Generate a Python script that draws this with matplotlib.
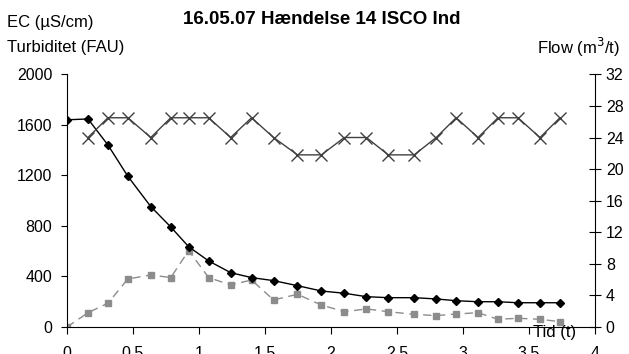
import numpy as np
import matplotlib
matplotlib.use("Agg")
import matplotlib.pyplot as plt
from matplotlib import ticker

plt.rcParams['font.family'] = ['Liberation Sans', 'DejaVu Sans']

# tid i timer
tid = [0, 0.159, 0.31, 0.461, 0.635, 0.786, 0.922, 1.073, 1.24, 1.398, 1.565, 1.746,
       1.927, 2.101, 2.268, 2.434, 2.63, 2.797, 2.948, 3.114, 3.265, 3.416, 3.583, 3.734]
ec = [1640, 1647, 1441, 1193, 953, 792, 635, 523, 430, 391, 367, 327,
      285, 267, 240, 232, 232, 222, 208, 200, 200, 192, 192, 192]
turb = [0, 113, 188, 380, 412, 391, 605, 391, 333, 372, 214, 259,
        174, 121, 143, 121, 100, 90, 103, 113, 61, 69, 61, 42]
# flow starter ved andet maalepunkt
tid_flow = tid[1:]
flow = [24, 26.5, 26.5, 24, 26.5, 26.5, 26.5, 24, 26.5, 24, 21.8, 21.8,
        24, 24, 21.8, 21.8, 24, 26.5, 24, 26.5, 26.5, 24, 26.5]

fig = plt.figure(figsize=(6.29, 3.54), dpi=100)
ax = fig.add_axes([0.1065, 0.0763, 0.8395, 0.7137])

ax.plot(tid, ec, color='black', lw=1, marker='D', ms=4.5, zorder=3)
ax.plot(tid, turb, color='#8c8c8c', lw=1, ls=(0, (6, 4)), marker='s', ms=4.5,
        markeredgecolor='#8c8c8c', zorder=2)
ax.set_xlim(0, 4)
ax.set_ylim(0, 2000)
ax.yaxis.set_major_locator(ticker.MultipleLocator(400))
ax.xaxis.set_major_locator(ticker.MultipleLocator(0.5))
ax.xaxis.set_major_formatter(ticker.FormatStrFormatter('%g'))
ax.spines['top'].set_visible(False)
ax.spines['right'].set_visible(False)
ax.tick_params(axis='y', direction='out', length=4, pad=6.5, labelsize=11.5)
ax.tick_params(axis='x', direction='out', length=5, pad=9, labelsize=11.5)

ax2 = ax.twinx()
ax2.plot(tid_flow, flow, color='#404040', lw=1, marker='x', ms=8, mew=1, zorder=4)
ax2.set_ylim(0, 32)
ax2.yaxis.set_major_locator(ticker.MultipleLocator(4))
ax2.spines['top'].set_visible(False)
ax2.spines['left'].set_visible(False)
ax2.spines['bottom'].set_visible(False)
ax2.tick_params(axis='y', direction='inout', length=8.6, pad=3.5, labelsize=11.5)

fig.text(0.512, 0.945, '16.05.07 Hændelse 14 ISCO Ind', ha='center', va='center',
         fontsize=13.5, fontweight='bold')
fig.text(0.011, 0.937, 'EC (µS/cm)', ha='left', va='center', fontsize=12)
fig.text(0.011, 0.867, 'Turbiditet (FAU)', ha='left', va='center', fontsize=12)
fig.text(0.986, 0.867, 'Flow (m$^3$/t)', ha='right', va='center', fontsize=12)
fig.text(0.916, 0.062, 'Tid (t)', ha='right', va='center', fontsize=12)

plt.savefig('out.png', dpi=100)
